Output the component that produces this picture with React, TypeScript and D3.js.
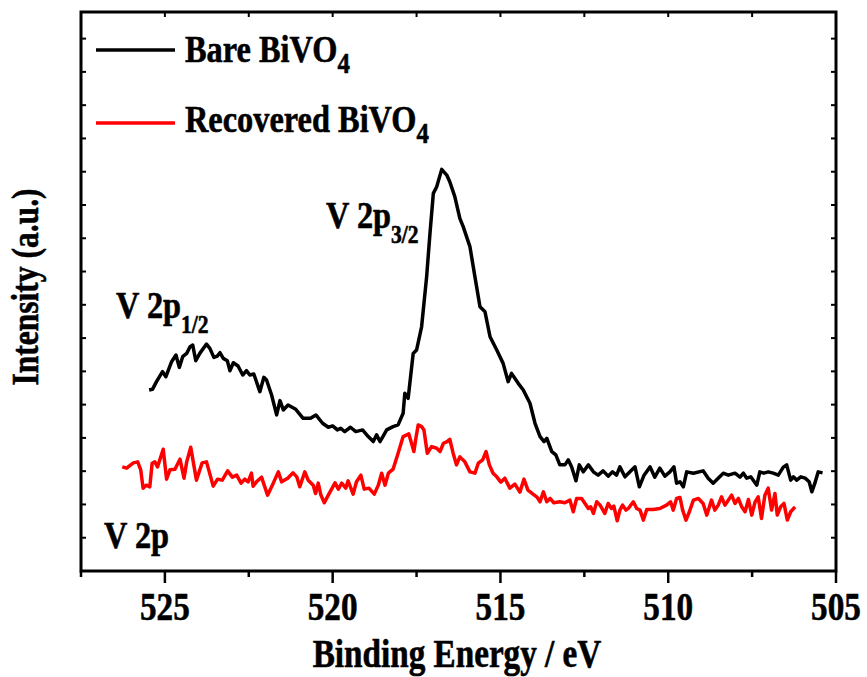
import React from "react";
import * as d3 from "d3";

// V 2p XPS spectra: binding energy (eV) and intensity (a.u.)
const bareEnergy = [
  525.47, 525.37, 525.25, 525.07, 524.97, 524.8, 524.67, 524.57, 524.47, 524.35,
  524.25, 524.17, 524.08, 523.96, 523.76, 523.66, 523.54, 523.44, 523.36, 523.26,
  523.14, 523.06, 522.96, 522.82, 522.68, 522.57, 522.47, 522.35, 522.17, 522.05,
  521.97, 521.82, 521.67, 521.57, 521.47, 521.33, 521.1, 520.88, 520.66, 520.5,
  520.3, 520.13, 520.0, 519.86, 519.76, 519.64, 519.47, 519.31, 519.11, 518.94,
  518.79, 518.69, 518.59, 518.49, 518.39, 518.2, 518.05, 517.9, 517.85, 517.75,
  517.6, 517.5, 517.35, 517.2, 517.1, 517.0, 516.9, 516.75, 516.6, 516.51,
  516.36, 516.21, 516.11, 515.91, 515.76, 515.61, 515.46, 515.31, 515.11, 514.92,
  514.77, 514.67, 514.47, 514.32, 514.12, 513.97, 513.82, 513.7, 513.62, 513.47,
  513.35, 513.23, 513.08, 512.98, 512.88, 512.75, 512.65, 512.53, 512.38, 512.23,
  512.09, 511.94, 511.79, 511.66, 511.54, 511.44, 511.29, 511.14, 510.99, 510.86,
  510.72, 510.54, 510.4, 510.25, 510.1, 509.95, 509.83, 509.75, 509.65, 509.55,
  509.45, 509.25, 508.96, 508.81, 508.66, 508.51, 508.36, 508.21, 508.01, 507.86,
  507.76, 507.66, 507.54, 507.36, 507.27, 507.15, 507.02, 506.87, 506.72, 506.57,
  506.47, 506.35, 506.27, 506.17, 506.05, 505.92, 505.8, 505.72, 505.63, 505.53,
  505.4,
];
const bareIntensity = [
  544, 546, 569, 599, 584, 629, 649, 612, 644, 654,
  674, 679, 632, 654, 682, 669, 642, 646, 656, 639,
  632, 602, 626, 616, 589, 602, 589, 592, 539, 582,
  574, 529, 469, 512, 484, 499, 486, 459, 459, 469,
  444, 432, 436, 424, 429, 419, 432, 419, 424, 404,
  389, 409, 389, 406, 424, 434, 439, 474, 534, 519,
  654, 664, 734, 884, 1015, 1135, 1155, 1207, 1190, 1170,
  1125, 1060, 1035, 975, 884, 794, 779, 704, 664, 624,
  569, 594, 564, 544, 504, 444, 404, 389, 399, 359,
  349, 319, 319, 334, 313, 271, 319, 298, 319, 298,
  288, 301, 285, 298, 288, 313, 283, 298, 313, 253,
  288, 313, 282, 309, 285, 298, 313, 264, 268, 253,
  298, 294, 301, 279, 264, 279, 294, 288, 294, 282,
  294, 279, 283, 258, 298, 294, 298, 294, 288, 312,
  319, 273, 283, 273, 283, 279, 268, 238, 264, 298,
  295,
];

const recoveredEnergy = [
  526.27, 526.14, 525.94, 525.81, 525.72, 525.65, 525.55, 525.45, 525.38, 525.3,
  525.22, 525.05, 524.95, 524.85, 524.7, 524.55, 524.43, 524.35, 524.23, 524.06,
  523.89, 523.76, 523.56, 523.43, 523.29, 523.13, 522.99, 522.86, 522.73, 522.62,
  522.52, 522.42, 522.37, 522.27, 522.12, 521.94, 521.77, 521.62, 521.52, 521.34,
  521.18, 521.07, 520.98, 520.83, 520.73, 520.58, 520.51, 520.43, 520.35, 520.25,
  520.13, 519.93, 519.83, 519.73, 519.61, 519.54, 519.39, 519.29, 519.16, 519.06,
  518.92, 518.76, 518.64, 518.54, 518.44, 518.34, 518.2, 518.05, 517.9, 517.73,
  517.58, 517.52, 517.45, 517.35, 517.28, 517.18, 517.05, 516.9, 516.8, 516.7,
  516.59, 516.51, 516.41, 516.31, 516.21, 516.06, 515.91, 515.76, 515.66, 515.53,
  515.43, 515.33, 515.22, 515.11, 514.99, 514.87, 514.72, 514.57, 514.42, 514.3,
  514.18, 514.03, 513.91, 513.82, 513.72, 513.62, 513.52, 513.41, 513.23, 513.08,
  512.93, 512.83, 512.73, 512.58, 512.48, 512.38, 512.31, 512.23, 512.13, 512.03,
  511.89, 511.79, 511.69, 511.62, 511.52, 511.44, 511.36, 511.26, 511.19, 511.04,
  510.94, 510.84, 510.74, 510.64, 510.45, 510.25, 510.05, 509.93, 509.85, 509.75,
  509.65, 509.57, 509.47, 509.37, 509.25, 509.1, 508.96, 508.85, 508.71, 508.61,
  508.51, 508.41, 508.31, 508.24, 508.11, 508.01, 507.91, 507.81, 507.71, 507.61,
  507.51, 507.41, 507.32, 507.22, 507.12, 507.02, 506.92, 506.82, 506.75, 506.65,
  506.55, 506.45, 506.35, 506.22,
];
const recoveredIntensity = [
  313, 309, 325, 328, 304, 249, 258, 253, 324, 328,
  313, 366, 276, 304, 306, 336, 279, 328, 372, 273,
  325, 328, 255, 276, 273, 301, 282, 288, 264, 276,
  268, 294, 255, 268, 282, 228, 264, 298, 268, 279,
  295, 283, 253, 298, 273, 258, 233, 264, 228, 205,
  228, 265, 246, 264, 249, 271, 231, 268, 288, 246,
  249, 231, 258, 294, 258, 294, 306, 354, 404, 412,
  359, 399, 439, 434, 424, 354, 374, 369, 359, 384,
  389, 396, 354, 319, 343, 328, 298, 294, 324, 334,
  359, 319, 294, 283, 267, 279, 249, 261, 237, 276,
  243, 231, 222, 208, 238, 208, 218, 205, 208, 205,
  213, 178, 218, 218, 203, 188, 193, 173, 208, 198,
  173, 203, 188, 195, 151, 183, 198, 183, 188, 208,
  188, 183, 153, 185, 185, 188, 198, 208, 183, 218,
  221, 183, 153, 178, 213, 218, 203, 168, 213, 183,
  198, 223, 198, 208, 228, 203, 218, 193, 178, 215,
  168, 208, 223, 158, 228, 249, 183, 233, 168, 193,
  203, 153, 178, 193,
];

const xTickLabels = ["525", "520", "515", "510", "505"];

const W = 867;
const H = 677;
const M = { left: 81, right: 836, top: 12, bottom: 571 };
const FONT = "'Liberation Serif', 'Times New Roman', Times, serif";
const SX = 0.83;

const x = d3.scaleLinear().domain([527.5, 505]).range([M.left, M.right]);
const y = d3.scaleLinear().domain([0, 1680]).range([M.bottom, M.top]);

const line = d3
  .line<[number, number]>()
  .x((d) => x(d[0]))
  .y((d) => y(d[1]));

const bare = bareEnergy.map((e, i) => [e, bareIntensity[i]] as [number, number]);
const recovered = recoveredEnergy.map(
  (e, i) => [e, recoveredIntensity[i]] as [number, number]
);

type LabelProps = {
  x: number;
  y: number;
  size: number;
  anchor?: "start" | "middle" | "end";
  rotate?: boolean;
  children: React.ReactNode;
};

function Label({ x: lx, y: ly, size, anchor = "start", rotate, children }: LabelProps) {
  return (
    <text
      transform={`translate(${lx},${ly})${rotate ? " rotate(-90)" : ""} scale(${SX},1)`}
      fontSize={size}
      fontWeight="bold"
      fontFamily={FONT}
      textAnchor={anchor}
      fill="#000"
      stroke="#000"
      strokeWidth={0.6}
    >
      {children}
    </text>
  );
}

export default function App() {
  const xTicks = d3.range(505, 527.51, 2.5);
  const yTicks = d3.range(100, 1680, 100);
  const isMajor = (v: number) => Math.abs(v % 5) < 1e-6;

  return (
    <svg
      width={W}
      height={H}
      style={{ position: "absolute", left: 0, top: 0, display: "block", background: "#fff" }}
    >
      {/* bottom axis ticks (outward) */}
      {xTicks.map((v) => (
        <line
          key={`bt${v}`}
          x1={x(v)}
          x2={x(v)}
          y1={M.bottom}
          y2={M.bottom + (isMajor(v) ? 12 : 6)}
          stroke="#000"
          strokeWidth={2.5}
        />
      ))}
      {/* top axis ticks (inward) */}
      {xTicks.map((v) => (
        <line
          key={`tt${v}`}
          x1={x(v)}
          x2={x(v)}
          y1={M.top}
          y2={M.top + 5}
          stroke="#000"
          strokeWidth={2}
        />
      ))}
      {/* left and right ticks (inward) */}
      {yTicks.map((v) => (
        <g key={`yt${v}`}>
          <line x1={M.left} x2={M.left + 5} y1={y(v)} y2={y(v)} stroke="#000" strokeWidth={2} />
          <line x1={M.right - 5} x2={M.right} y1={y(v)} y2={y(v)} stroke="#000" strokeWidth={2} />
        </g>
      ))}

      {/* spectra */}
      <path d={line(recovered) ?? ""} fill="none" stroke="#ff0000" strokeWidth={3.5} strokeLinejoin="round" />
      <path d={line(bare) ?? ""} fill="none" stroke="#000" strokeWidth={3.5} strokeLinejoin="round" />

      {/* frame */}
      <rect
        x={M.left}
        y={M.top}
        width={M.right - M.left}
        height={M.bottom - M.top}
        fill="none"
        stroke="#000"
        strokeWidth={3}
      />

      {/* tick labels */}
      {xTickLabels.map((t) => (
        <Label key={t} x={x(+t)} y={620} size={40} anchor="middle">
          {t}
        </Label>
      ))}

      {/* axis titles */}
      <Label x={457} y={667} size={40} anchor="middle">
        Binding Energy / eV
      </Label>
      <Label x={38} y={287} size={38} anchor="middle" rotate>
        Intensity (a.u.)
      </Label>

      {/* legend */}
      <line x1={96} x2={175} y1={50} y2={50} stroke="#000" strokeWidth={3.5} />
      <Label x={185} y={62} size={39}>
        Bare BiVO
        <tspan fontSize={30} dy={11}>4</tspan>
      </Label>
      <line x1={96} x2={175} y1={123} y2={123} stroke="#ff0000" strokeWidth={3.5} />
      <Label x={185} y={132} size={39}>
        Recovered BiVO
        <tspan fontSize={30} dy={11}>4</tspan>
      </Label>

      {/* peak annotations */}
      <Label x={326} y={228} size={39}>
        V 2p
        <tspan fontSize={26} dy={15}>3/2</tspan>
      </Label>
      <Label x={116} y={318} size={39}>
        V 2p
        <tspan fontSize={26} dy={15}>1/2</tspan>
      </Label>
      <Label x={104} y={548} size={39}>
        V 2p
      </Label>
    </svg>
  );
}
